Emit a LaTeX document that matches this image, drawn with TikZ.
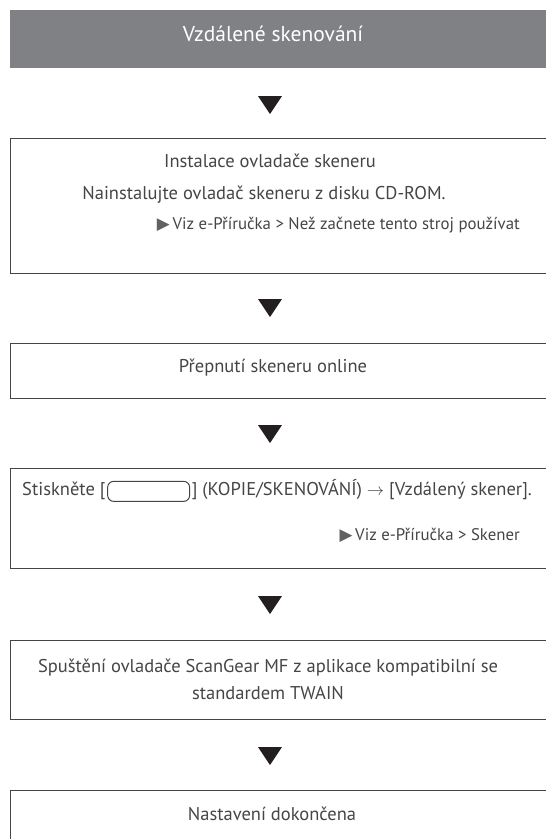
\documentclass[tikz,border=0pt]{standalone}
\usepackage{fontspec}
\setmainfont{PT Sans}
\newfontfamily\symfont{DejaVu Sans}
\definecolor{hdr}{HTML}{808184}
\definecolor{txt}{HTML}{454545}
\definecolor{frame}{HTML}{454545}
\definecolor{tri}{HTML}{231F20}
\begin{document}
\begin{tikzpicture}[x=1pt,y=-1pt,
  stepbox/.style={draw=frame, line width=1.2pt, anchor=north west, inner sep=0pt, minimum width=560pt},
  body/.style={text=txt, font=\fontsize{18.5}{27}\selectfont, inner sep=0pt, anchor=mid},
  reftext/.style={text=txt, font=\fontsize{16.8}{19}\selectfont, inner sep=0pt, anchor=mid east},
  headtext/.style={text=white, font=\fontsize{21.5}{25}\selectfont, inner sep=0pt, anchor=mid},
  btn/.style={draw=txt, line width=1pt, rounded corners=6pt, minimum width=82pt, minimum height=20pt, inner sep=0pt, anchor=west},
  downtri/.style={fill=tri}]
\useasboundingbox (0,0) rectangle (546,839);
\clip (0,0) rectangle (546,839);
% header
\fill[hdr] (10,10) rectangle (570,68);
\node[headtext] (h) at (273,39) {Vzdálené skenování};
% triangle 1
\coordinate (t1) at (270,105);
\fill[downtri] ([xshift=-12pt,yshift=9pt]t1) -- ([xshift=12pt,yshift=9pt]t1) -- ([yshift=-9pt]t1) -- cycle;
% box 1
\node[stepbox, minimum height=135pt] (b1) at (10,138) {};
\node[body] (b1a) at (270,165) {Instalace ovladače skeneru};
\node[body] (b1b) at (264,197) {Nainstalujte ovladač skeneru z disku CD-ROM.};
\node[reftext] (b1c) at (520,227) {{\symfont\color{txt!85}▶}\,Viz e-Příručka > Než začnete tento stroj používat};
% triangle 2
\coordinate (t2) at (270,308);
\fill[downtri] ([xshift=-12pt,yshift=9pt]t2) -- ([xshift=12pt,yshift=9pt]t2) -- ([yshift=-9pt]t2) -- cycle;
% box 2
\node[stepbox, minimum height=55pt] (b2) at (10,343) {};
\node[body] (b2a) at (273,370) {Přepnutí skeneru online};
% triangle 3
\coordinate (t3) at (270,434);
\fill[downtri] ([xshift=-12pt,yshift=9pt]t3) -- ([xshift=12pt,yshift=9pt]t3) -- ([yshift=-9pt]t3) -- cycle;
% box 3
\node[stepbox, minimum height=100pt] (b3) at (10,468) {};
\node[body, anchor=mid west] (b3a) at (22,493) {Stiskněte [};
\node[btn] (b3btn) at ([xshift=1.5pt,yshift=-0.5pt]b3a.east) {};
\node[body, anchor=mid west] (b3b) at ([xshift=1.5pt]b3btn.east |- b3a.mid) {] (KOPIE/SKENOVÁNÍ) $\rightarrow$ [Vzdálený skener].};
\node[reftext] (b3c) at (520,538) {{\symfont\color{txt!85}▶}\,Viz e-Příručka > Skener};
% triangle 4
\coordinate (t4) at (270,605);
\fill[downtri] ([xshift=-12pt,yshift=9pt]t4) -- ([xshift=12pt,yshift=9pt]t4) -- ([yshift=-9pt]t4) -- cycle;
% box 4
\node[stepbox, minimum height=79pt] (b4) at (10,640) {};
\node[body, align=center, anchor=center] (b4a) at (268,679) {Spuštění ovladače ScanGear MF z aplikace kompatibilní se\\standardem TWAIN};
% triangle 5
\coordinate (t5) at (270,756);
\fill[downtri] ([xshift=-12pt,yshift=9pt]t5) -- ([xshift=12pt,yshift=9pt]t5) -- ([yshift=-9pt]t5) -- cycle;
% box 5
\node[stepbox, minimum height=90pt] (b5) at (10,790) {};
\node[body] (b5a) at (272,818) {Nastavení dokončena};
\end{tikzpicture}
\end{document}
